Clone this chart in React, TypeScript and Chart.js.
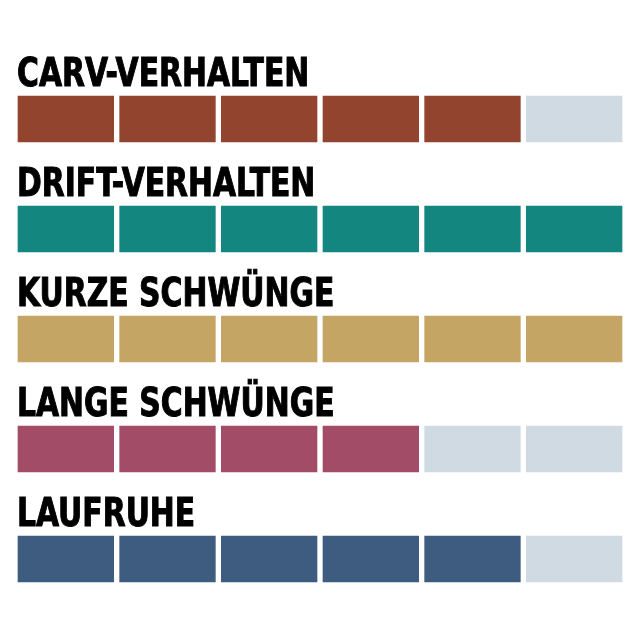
import React, { useEffect, useRef } from "react";
import { Chart, registerables } from "chart.js";

Chart.register(...registerables);

const categories = ["CARV-VERHALTEN", "DRIFT-VERHALTEN", "KURZE SCHWÜNGE", "LANGE SCHWÜNGE", "LAUFRUHE"];
const ratings = [5, 6, 6, 4, 5];
const maxRating = 6;
const fillColors = ["#93442F", "#13867F", "#C4A563", "#A24C68", "#3D5C80"];
const emptyColor = "#CFDAE2";

const labelPlugin = {
  id: "rowLabels",
  afterDatasetsDraw(chart: any) {
    const { ctx, chartArea, scales } = chart;
    const squeeze = 0.85;
    ctx.save();
    ctx.fillStyle = "#000000";
    ctx.strokeStyle = "#000000";
    ctx.lineWidth = 1;
    ctx.font = 'bold 39px "Liberation Sans Narrow", "DejaVu Sans Condensed", sans-serif';
    ctx.textAlign = "left";
    ctx.textBaseline = "alphabetic";
    categories.forEach((c, i) => {
      const y = scales.y.getPixelForValue(i) - 33;
      const x = chartArea.left + 2;
      ctx.save();
      ctx.translate(x, y);
      ctx.scale(squeeze, 1);
      ctx.fillText(c, 0, 0);
      ctx.strokeText(c, 0, 0);
      ctx.restore();
    });
    ctx.restore();
  },
};

export default function App() {
  const ref = useRef<HTMLCanvasElement>(null);
  useEffect(() => {
    document.body.style.margin = "0";
    const datasets = Array.from({ length: maxRating }, (_, k) => ({
      data: categories.map(() => 1),
      backgroundColor: ratings.map((r, i) => (k < r ? fillColors[i] : emptyColor)),
      borderColor: "#FFFFFF",
      borderWidth: 3,
      borderSkipped: false as const,
      barThickness: 52,
    }));
    const chart = new Chart(ref.current as HTMLCanvasElement, {
      type: "bar",
      data: { labels: categories, datasets },
      options: {
        indexAxis: "y",
        animation: false,
        responsive: false,
        layout: { padding: { left: 15, right: 15, top: 64, bottom: 26 } },
        scales: {
          x: { stacked: true, min: 0, max: maxRating, display: false },
          y: { stacked: true, display: false },
        },
        plugins: { legend: { display: false }, tooltip: { enabled: false } },
      },
      plugins: [labelPlugin],
    });
    return () => chart.destroy();
  }, []);
  return (
    <div style={{ width: 640, height: 640, background: "#fff" }}>
      <canvas ref={ref} width={640} height={640} style={{ display: "block" }} />
    </div>
  );
}
